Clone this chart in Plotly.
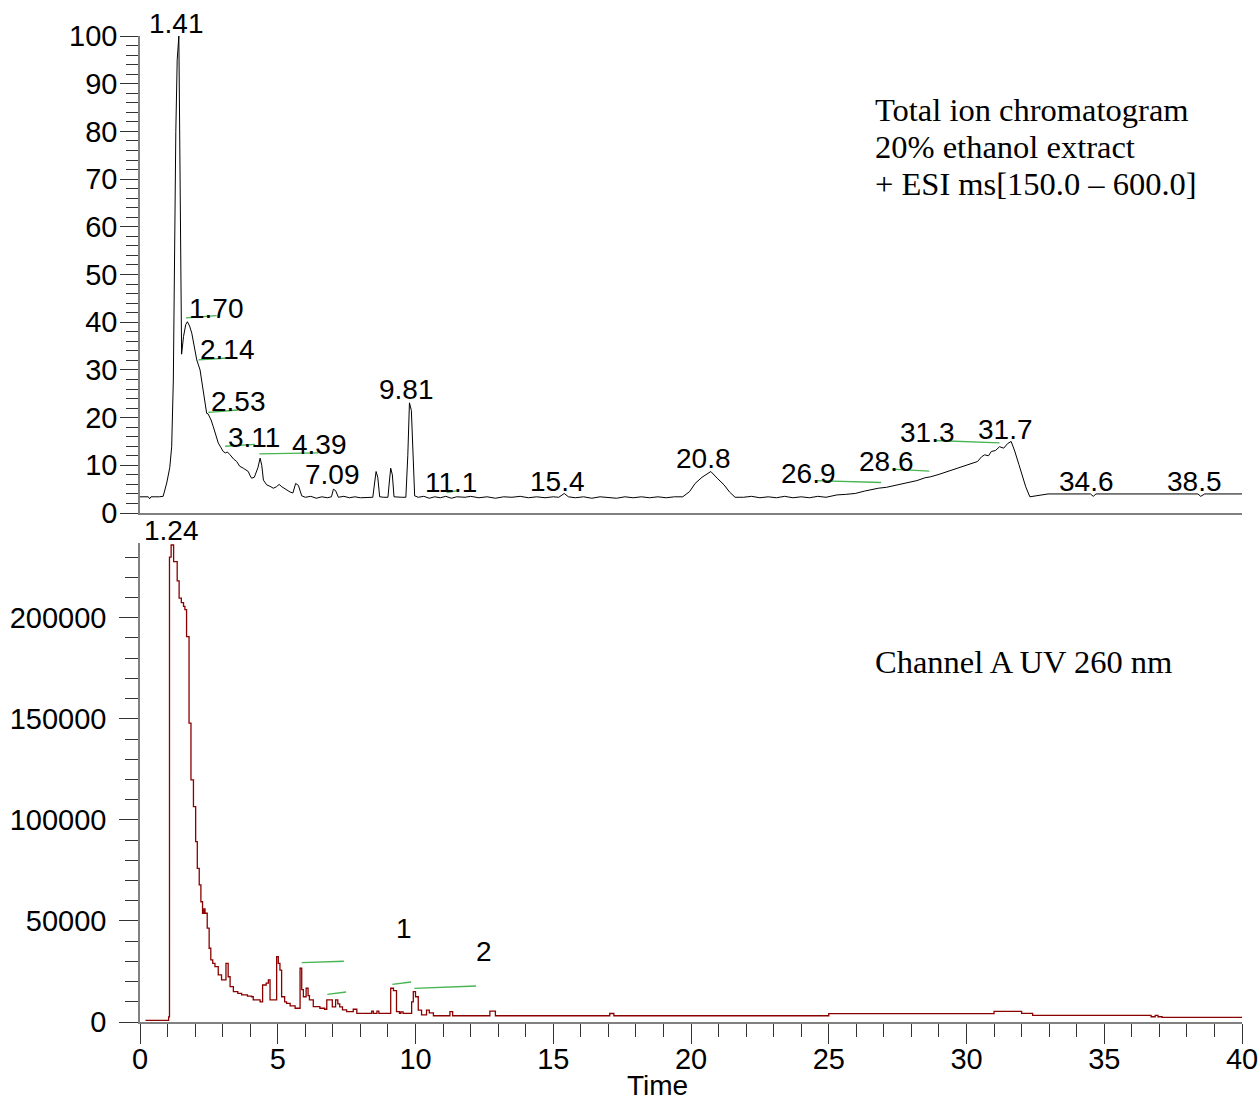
import plotly.graph_objects as go

# Total ion chromatogram (top panel), time in min, relative intensity in %
tic_time = [0.0, 0.3, 0.35, 0.4, 0.7, 0.84, 0.97, 1.08, 1.15, 1.21, 1.3, 1.35, 1.41, 1.46, 1.51,
            1.58, 1.66, 1.72, 1.8, 1.88, 1.96, 2.06, 2.18, 2.3, 2.42, 2.47, 2.52, 2.58, 2.66, 2.75,
            2.84, 2.93, 3.02, 3.1, 3.17, 3.27, 3.4, 3.51, 3.62, 3.75, 3.85, 3.93, 4.0, 4.05, 4.15,
            4.28, 4.36, 4.42, 4.48, 4.6, 4.72, 4.84, 4.95, 5.05, 5.15, 5.32, 5.45, 5.55, 5.65, 5.75,
            5.87, 6.0, 6.2, 6.4, 6.6, 6.8, 6.95, 7.02, 7.1, 7.2, 7.4, 7.6, 7.8, 8.0, 8.3,
            8.45, 8.52, 8.57, 8.63, 8.7, 8.85, 9.0, 9.05, 9.1, 9.16, 9.22, 9.5, 9.65, 9.72, 9.78,
            9.85, 9.92, 9.97, 10.1, 10.3, 10.5, 10.7, 10.9, 11.1, 11.3, 11.5, 11.8, 12.0, 12.3, 12.6,
            12.9, 13.2, 13.5, 13.8, 14.1, 14.4, 14.7, 15.0, 15.2, 15.4, 15.55, 15.8, 16.1, 16.4, 16.7,
            17.0, 17.3, 17.6, 17.9, 18.2, 18.5, 18.8, 19.1, 19.4, 19.7, 19.95, 20.15, 20.4, 20.72, 20.95,
            21.2, 21.4, 21.6, 21.9, 22.2, 22.5, 22.8, 23.1, 23.4, 23.7, 24.0, 24.3, 24.6, 24.9, 25.3,
            25.6, 25.96, 26.3, 26.8, 27.1, 27.5, 27.8, 28.2, 28.5, 28.7, 29.0, 29.3, 29.6, 29.8, 30.1,
            30.4, 30.55, 30.66, 30.8, 30.9, 31.05, 31.2, 31.35, 31.5, 31.62, 31.75, 31.9, 32.03, 32.15, 32.3,
            32.6, 32.96, 33.5, 34.0, 34.5, 34.6, 34.7, 35.5, 36.5, 37.5, 38.4, 38.5, 38.65, 39.2, 40.0]
tic_int = [3.4, 3.4, 3.0, 3.4, 3.4, 3.5, 6.3, 9.5, 13.9, 27.9, 80, 95, 100, 70, 33.3,
           37, 39.5, 40.1, 39.2, 37.7, 35, 32.1, 30, 25.1, 20.9, 20.8, 20.2, 19.5, 18.1, 16.5,
           14.7, 13.8, 12.9, 12.6, 12.8, 12.2, 11.3, 10.8, 9.8, 9.4, 9.0, 8.7, 7.8, 7.3, 7.5,
           9.5, 11.5, 10.0, 6.9, 5.9, 5.6, 5.2, 5.5, 6.0, 5.5, 4.8, 4.4, 4.2, 6.2, 5.8,
           3.6, 3.3, 3.5, 3.1, 3.4, 3.2, 3.4, 5.0, 4.7, 3.3, 3.5, 3.2, 3.4, 3.2, 3.3,
           3.3, 6.5, 8.7, 7.5, 3.4, 3.3, 3.3, 6.5, 9.4, 8.0, 3.4, 3.3, 3.3, 12, 23.1,
           21.5, 8, 3.6, 3.3, 3.5, 3.1, 3.4, 3.2, 3.5, 3.1, 3.4, 3.3, 3.5, 3.2, 3.4,
           3.1, 3.4, 3.3, 3.5, 3.2, 3.4, 3.2, 3.4, 3.3, 4.1, 3.4, 3.2, 3.4, 3.1, 3.4,
           3.3, 3.1, 3.4, 3.2, 3.4, 3.2, 3.4, 3.2, 3.4, 3.4, 4.5, 6.2, 7.5, 8.7, 7.3,
           5.9, 4.4, 3.3, 3.3, 3.5, 3.2, 3.4, 3.2, 3.5, 3.2, 3.4, 3.2, 3.5, 3.3, 3.8,
           3.9, 4.1, 4.6, 5.2, 5.4, 5.9, 6.3, 6.8, 7.4, 7.6, 8.1, 8.7, 9.3, 9.7, 10.2,
           10.8, 11.8, 12.2, 12.0, 12.9, 13.1, 13.9, 13.6, 14.6, 15.0, 13.0, 10.2, 7.6, 5.5, 3.4,
           3.6, 4.0, 4.0, 4.0, 4.0, 3.5, 4.0, 4.0, 4.0, 4.0, 4.0, 3.5, 4.0, 4.0, 4.0]

# UV 260 nm trace (bottom panel), step data
uv_time = [0.2, 1.0, 1.04, 1.07, 1.13, 1.22, 1.35, 1.42, 1.5, 1.58, 1.63, 1.69, 1.78, 1.85, 1.94,
           2.02, 2.08, 2.15, 2.21, 2.27, 2.32, 2.36, 2.44, 2.51, 2.57, 2.64, 2.72, 2.84, 2.96, 3.12,
           3.2, 3.27, 3.39, 3.55, 3.69, 3.9, 4.05, 4.11, 4.36, 4.45, 4.58, 4.66, 4.72, 4.9, 4.96,
           5.02, 5.08, 5.14, 5.25, 5.32, 5.45, 5.63, 5.81, 5.87, 5.93, 6.03, 6.1, 6.15, 6.29, 6.53,
           6.7, 6.78, 6.9, 6.98, 7.1, 7.18, 7.25, 7.35, 7.5, 7.74, 7.87, 8.41, 8.47, 8.6, 8.67,
           9.1, 9.2, 9.31, 9.42, 9.47, 9.55, 9.86, 9.92, 10.0, 10.1, 10.22, 10.4, 10.5, 10.65, 11.25,
           11.35, 12.7, 12.9, 17.05, 17.2, 25.0, 31.0, 32.0, 32.4, 36.7, 36.85, 36.95, 37.1, 40.0]
uv_abs = [800, 800, 2500, 230000, 236000, 227800, 218300, 209700, 207500, 205600, 204000, 190700, 147900, 119800, 106600,
          89200, 76000, 67800, 59500, 53800, 56000, 53800, 46400, 36500, 30700, 29000, 27400, 23300, 20800, 29000,
          22400, 17500, 15000, 14200, 13400, 12800, 12500, 10900, 10000, 18300, 19200, 20800, 10900, 10900, 32300,
          29000, 25700, 12500, 10000, 9200, 8000, 6800, 26600, 16000, 12500, 16700, 13000, 10900, 7600, 6800,
          6300, 10900, 10900, 7500, 10900, 9000, 7500, 6000, 5100, 6300, 4300, 5400, 4300, 5400, 4300,
          16700, 15500, 5100, 4300, 5000, 4300, 10000, 15000, 12500, 5900, 3500, 5900, 4500, 3100, 5100,
          3100, 5400, 3100, 4200, 3100, 4100, 5300, 4300, 3300, 2600, 3300, 2600, 2300, 2300]

# integration baselines (green segments): start time, start value, end time, end value
tic_baselines = [(1.67, 40.9, 2.78, 41.4), (2.12, 32.1, 3.20, 32.5), (2.48, 21.1, 3.56, 21.6),
                 (3.09, 14.0, 4.17, 14.4), (4.33, 12.4, 6.47, 12.6), (11.13, 4.3, 11.55, 4.7),
                 (24.5, 6.8, 26.9, 6.4), (27.3, 9.2, 28.65, 8.8), (28.86, 15.2, 31.2, 14.7)]
uv_baselines = [(5.87, 29350, 7.4, 30050), (6.8, 13700, 7.48, 14850),
                (9.16, 18660, 9.84, 19800), (9.96, 16680, 12.2, 17820)]

# peak labels (text, time, value where the label sits)
tic_labels = [("1.70", 2.76, 42.8), ("2.14", 3.19, 34.2), ("2.53", 3.56, 23.3),
              ("3.11", 4.14, 15.9), ("4.39", 6.50, 14.3), ("7.09", 7.0, 8.0), ("9.81", 9.69, 26.0),
              ("11.1", 11.29, 6.3), ("15.4", 15.14, 6.7), ("20.8", 20.47, 11.5), ("26.9", 24.28, 8.2),
              ("28.6", 27.08, 10.7), ("31.3", 28.6, 16.8), ("31.7", 31.4, 17.6), ("34.6", 34.34, 6.7),
              ("38.5", 38.26, 6.7)]
uv_labels = [("1", 9.58, 46500), ("2", 12.49, 34650)]
# labels of the two main peaks sit just above the axis ranges
top_peak_labels = [("1.41", 1.34, "y2 domain"), ("1.24", 1.16, "y domain")]

info_lines = ["Total ion chromatogram", "20% ethanol extract", "+ ESI ms[150.0 \u2013 600.0]"]

sans = "Liberation Sans, Arial, sans-serif"
serif = "Liberation Serif, Times New Roman, serif"
green = "#46b450"
label_font = dict(family=sans, size=28, color="black")
tick_font = dict(family=sans, size=29, color="black")
serif_font = dict(family=serif, size=32.5, color="black")

fig = go.Figure()
fig.add_trace(go.Scatter(x=tic_time, y=tic_int, mode="lines", xaxis="x2", yaxis="y2",
                         line=dict(color="black", width=1)))
fig.add_trace(go.Scatter(x=uv_time, y=uv_abs, mode="lines", line_shape="hv",
                         line=dict(color="#8b0000", width=1.3)))
for x0, y0, x1, y1 in tic_baselines:
    fig.add_trace(go.Scatter(x=[x0, x1], y=[y0, y1], mode="lines", xaxis="x2", yaxis="y2",
                             line=dict(color=green, width=1.3)))
for x0, y0, x1, y1 in uv_baselines:
    fig.add_trace(go.Scatter(x=[x0, x1], y=[y0, y1], mode="lines",
                             line=dict(color=green, width=1.3)))

annotations = []
for txt, x, y in tic_labels:
    annotations.append(dict(text=txt, x=x, y=y, xref="x2", yref="y2", showarrow=False,
                            xanchor="center", yanchor="middle", font=label_font))
for txt, x, y in uv_labels:
    annotations.append(dict(text=txt, x=x, y=y, xref="x", yref="y", showarrow=False,
                            xanchor="center", yanchor="middle", font=label_font))
for txt, x, ref in top_peak_labels:
    annotations.append(dict(text=txt, x=x, y=1.027, xref="x", yref=ref, showarrow=False,
                            xanchor="center", yanchor="middle", font=label_font))
for i, line in enumerate(info_lines):
    annotations.append(dict(text=line, x=0.6655, y=0.925 - i * 0.0375, xref="paper", yref="paper",
                            xanchor="left", yanchor="middle", showarrow=False, font=serif_font))
annotations.append(dict(text="Channel A UV 260 nm", x=0.6655, y=0.365, xref="paper", yref="paper",
                        xanchor="left", yanchor="middle", showarrow=False, font=serif_font))
annotations.append(dict(text="Time", x=0.470, y=-0.0645, xref="paper", yref="paper",
                        xanchor="center", yanchor="middle", showarrow=False, font=label_font))

axis_common = dict(showgrid=False, zeroline=False, showline=True, linecolor="#808080",
                   linewidth=1.5, tickcolor="#333", tickwidth=1, automargin=False,
                   tickfont=tick_font)

fig.update_layout(
    width=1259, height=1101,
    margin=dict(l=140, r=17, t=36, b=79),
    plot_bgcolor="white", paper_bgcolor="white",
    showlegend=False,
    annotations=annotations,
    xaxis=dict(range=[0, 40], anchor="y", ticks="outside", ticklen=20, dtick=5, tick0=0,
               ticklabelstandoff=-10,
               minor=dict(dtick=1, ticklen=13, ticks="outside", tickcolor="#333"),
               **axis_common),
    xaxis2=dict(range=[0, 40], anchor="y2", ticks="", showticklabels=False, matches="x",
                **axis_common),
    yaxis=dict(domain=[0, 0.4858], range=[0, 237000], anchor="x", ticks="outside", ticklen=19,
               dtick=50000, tick0=0, tickformat="d", ticklabelstandoff=7,
               minor=dict(dtick=10000, ticklen=13, ticks="outside", tickcolor="#333"),
               **axis_common),
    yaxis2=dict(domain=[0.5162, 1], range=[0, 100], anchor="x2", ticks="outside", ticklen=18,
                dtick=10, tick0=0, ticklabelstandoff=-3,
                minor=dict(dtick=2, ticklen=12, ticks="outside", tickcolor="#333"),
                **axis_common),
)

# drop the default page margin so the figure fills the window exactly
fig.write_html("out.html", config={"displayModeBar": False},
               post_script="document.body.style.margin = '0';")
